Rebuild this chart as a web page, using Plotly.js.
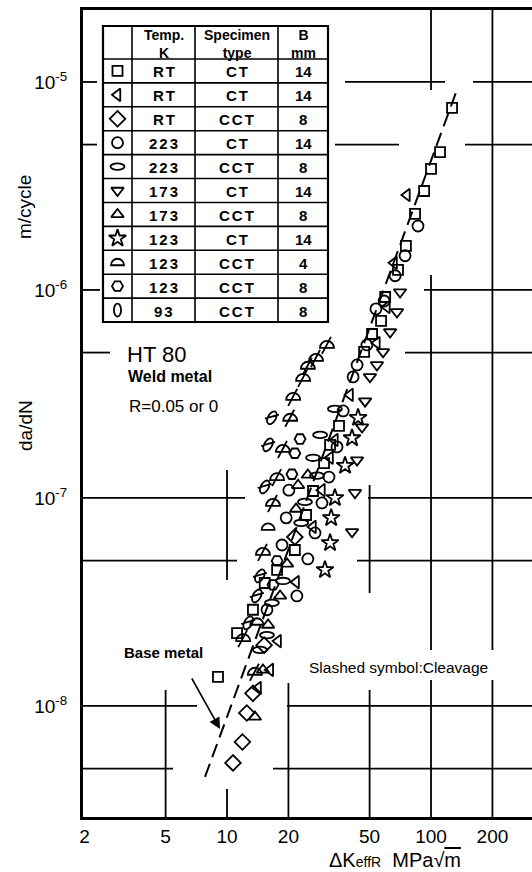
<!DOCTYPE html>
<html><head><meta charset="utf-8">
<script src="https://cdn.plot.ly/plotly-3.0.1.min.js"></script>
<style>html,body{margin:0;padding:0;background:#fff}#plot{width:532px;height:872px}</style>
</head><body><div id="plot"></div>
<script>
// ---------- DATA (ΔK_effR in MPa√m, da/dN in m/cycle) ----------
// RT, CT, 14 mm (square)
const sqK = [126.8,110.7,100,92.5,83.5,75.3,68.9,59.6,56.9,51.4,47.0,35.4,32.0,29.9,26.4,24.4,21.5,17.6,15.3,13.4,11.2,9.03];
const sqR = [7.50e-6,4.60e-6,3.82e-6,2.99e-6,2.32e-6,1.63e-6,1.25e-6,9.25e-7,7.10e-7,6.14e-7,5.04e-7,2.22e-7,1.80e-7,1.47e-7,1.08e-7,8.28e-8,5.62e-8,4.51e-8,3.90e-8,2.90e-8,2.24e-8,1.38e-8];
// RT, CT, 14 mm (left triangle)
const tlK = [76.2,65.9,60.8,54.3,40.1,33.8,32.0,29.2,26.4,21.8,17.8,16.3,14.2];
const tlR = [2.86e-6,1.35e-6,8.28e-7,5.56e-7,3.13e-7,1.90e-7,1.56e-7,1.09e-7,7.26e-8,3.94e-8,2.05e-8,1.49e-8,1.22e-8];
// RT, CCT, 8 mm (diamond)
const dmK = [21.5,15.2,13.4,12.5,11.9,10.7];
const dmR = [6.49e-8,1.96e-8,1.15e-8,9.25e-9,6.71e-9,5.32e-9];
// 223 K, CT, 14 mm (circle)
const ciK = [86.3,74.6,66.7,58.9,53.7,48.5,43.4,41.5,37.1,34.6,31.6,29.2,27.0,24.9,22.0,20.1,19.5,18.6,15.7];
const ciR = [2.03e-6,1.46e-6,1.17e-6,8.85e-7,8.11e-7,5.44e-7,4.36e-7,3.82e-7,2.62e-7,1.76e-7,1.26e-7,9.46e-8,6.79e-8,5.09e-8,3.38e-8,1.09e-7,8.02e-8,5.94e-8,2.90e-8];
// 223 K, CCT, 8 mm (flat ellipse)
const elK = [33.8,28.6,26.4,27.6,24.1,23.1,18.8,16.6,15.7,14.5];
const elR = [2.68e-7,2.01e-7,1.56e-7,1.28e-7,9.57e-8,7.59e-8,3.99e-8,3.13e-8,2.19e-8,1.86e-8];
// 173 K, CT, 14 mm (down triangle)
const tdK = [70.5,68.1,63.0,58.2,54.3,50.2,47.5,45.9,43.4,42.4,41.0];
const tdR = [9.77e-7,7.84e-7,6.28e-7,5.04e-7,4.36e-7,3.82e-7,2.92e-7,2.19e-7,1.52e-7,1.06e-7,6.87e-8];
// 173 K, CCT, 8 mm (up triangle)
const tuK = [24.9,22.3,21.8,19.7,18.2,15.9,15.0,13.7];
const tuR = [1.29e-7,1.15e-7,8.85e-8,4.82e-8,3.38e-8,2.45e-8,1.49e-8,8.85e-9];
// 123 K, CT, 14 mm (star)
const stK = [43.9,41.0,37.9,33.8,32.4,32.0,30.2];
const stR = [2.43e-7,1.94e-7,1.43e-7,1.0e-7,8.02e-8,6.08e-8,4.51e-8];
// 123 K, CCT, 4 mm (half circle)
const hcK = [15.9,14.0];
const hcR = [7.26e-8,2.54e-8];
// 123 K, CCT, 8 mm (hexagon)
const hxK = [22.8,21.5,20.8,17.6,16.8];
const hxR = [1.92e-7,1.64e-7,1.30e-7,4.98e-8,3.82e-8];
// 93 K, CCT, 8 mm (zero) – none unslashed
const zeK = [];
const zeR = [];
// Slashed symbols: cleavage
const cvHalfK = [30.9,27.3,24.9,23.6,21.1,20.4,18.8,17.6,16.8,15.0,12.0,13.7];
const cvHalfR = [5.44e-7,4.71e-7,4.32e-7,3.78e-7,3.06e-7,2.43e-7,1.72e-7,1.26e-7,9.46e-8,5.50e-8,2.12e-8,1.46e-8];
const cvZeroK = [16.6,15.9,15.3,14.5,14.0,12.7];
const cvZeroR = [2.43e-7,1.80e-7,1.13e-7,4.22e-8,3.38e-8,2.51e-8];
// Base metal line
const baseK = [7.8,134];
const baseR = [4.56e-9,9.16e-6];

// Table
const tblTemp = ['RT','RT','RT','223','223','173','173','123','123','123','93'];
const tblType = ['CT','CT','CCT','CT','CCT','CT','CCT','CT','CCT','CCT','CCT'];
const tblB    = ['14','14','8','14','8','14','8','14','4','8','8'];
const tblHead = ['Temp.<br>K','Specimen<br>type','B<br>mm'];

const xTickVals = [2,5,10,20,50,100,200];
const xTickText = ['2','5','10','20','50','100','200'];
const yTickVals = [1e-8,1e-7,1e-6,1e-5];
const yTickText = ['10<sup>-8</sup>','10<sup>-7</sup>','10<sup>-6</sup>','10<sup>-5</sup>'];

// ---------- LAYOUT GEOMETRY ----------
const W=532,H=872,L=83,R=532,T=10,B=817;
const xr=[0.294,2.495], yr=[-8.534,-4.654];
const pX=px=>(px-L)/(R-L), pY=py=>(B-py)/(B-T);
const vX=v=>(Math.log10(v)-xr[0])/(xr[1]-xr[0]);
const vY=v=>(Math.log10(v)-yr[0])/(yr[1]-yr[0]);
const FONT='Liberation Sans, Arial, sans-serif';

const P_FLAT='M-7,0A7,3.2 0 1,1 7,0A7,3.2 0 1,1 -7,0Z';
const P_HALF='M-6.5,3A6.5,6.5 0 0,1 6.5,3Z';
const P_ZERO='M0,-6.5A3.6,6.5 0 1,1 0,6.5A3.6,6.5 0 1,1 0,-6.5Z';
const P_HALFSL='M-7,3A7,7 0 0,1 7,3Z M-5,9L4,-8';
const P_ZEROSL='M3.5,-6.06A3.8,7 30 1,1 -3.5,6.06A3.8,7 30 1,1 3.5,-6.06Z M-7,1L7,-3';

const series=[
 {K:sqK,R:sqR,symbol:'square-open',size:10},
 {K:tlK,R:tlR,symbol:'triangle-left-open',size:11},
 {K:dmK,R:dmR,symbol:'diamond-open',size:12},
 {K:ciK,R:ciR,symbol:'circle-open',size:11},
 {K:elK,R:elR,symbol:'circle-open',size:11,path:P_FLAT},
 {K:tdK,R:tdR,symbol:'triangle-down-open',size:11},
 {K:tuK,R:tuR,symbol:'triangle-up-open',size:11},
 {K:stK,R:stR,symbol:'star-open',size:13},
 {K:hcK,R:hcR,symbol:'circle-open',size:11,path:P_HALF},
 {K:hxK,R:hxR,symbol:'hexagon2-open',size:11},
 {K:zeK,R:zeR,symbol:'circle-open',size:11,path:P_ZERO}
];
const cleav=[
 {K:cvHalfK,R:cvHalfR,symbol:'circle-open',size:11,path:P_HALFSL},
 {K:cvZeroK,R:cvZeroR,symbol:'circle-open',size:11,path:P_ZEROSL}
];

const mk=s=>({symbol:s.symbol,size:s.size,color:'black',line:{color:'black',width:1.8}});
const traces=[];
traces.push({x:baseK,y:baseR,mode:'lines',line:{color:'black',width:2,dash:'14px,7px'},showlegend:false,hoverinfo:'skip'});
series.concat(cleav).forEach(s=>{
  traces.push({x:s.K,y:s.R,mode:'markers',marker:mk(s),meta:{path:s.path||null},showlegend:false,cliponaxis:false});
});

// table geometry
const tX0=103,tX1=328,tCols=[132,195,278],tY0=26,tHead=59,tY1=322,nRows=11;
const rowH=(tY1-tHead)/nRows;
const iconX=(tX0+tCols[0])/2;
series.forEach((s,i)=>{
  const cy=tHead+rowH*(i+0.5);
  traces.push({x:[pX(iconX)],y:[pY(cy)],xaxis:'x2',yaxis:'y2',mode:'markers',
    marker:mk(s),meta:{path:s.path||null},showlegend:false,cliponaxis:false});
});

const shapes=[];
const ln=(x0,y0,x1,y1,w)=>shapes.push({type:'line',xref:'paper',yref:'paper',x0,y0,x1,y1,line:{color:'black',width:w}});
// broken grid lines
const hGrid=[
 [1e-5,[[83,97],[345,445],[473,532]]],
 [5e-6,[[83,97],[335,399],[465,532]]],
 [1e-6,[[83,100],[424,532]]],
 [5e-7,[[83,110],[405,532]]],
 [1e-7,[[83,245],[368,532]]],
 [5e-8,[[83,237],[357,532]]],
 [1e-8,[[83,197],[287,532]]],
 [5e-9,[[83,173],[273,532]]]
];
const vGrid=[
 [5,[[690,817]]],
 [10,[[470,580],[789,817]]],
 [20,[[683,817]]],
 [50,[[485,593],[690,817]]],
 [100,[[10,90],[275,650],[680,817]]],
 [200,[[10,650],[680,817]]]
];
hGrid.forEach(([v,segs])=>segs.forEach(([a,b])=>ln(pX(a),vY(v),pX(b),vY(v),1.8)));
vGrid.forEach(([v,segs])=>segs.forEach(([a,b])=>ln(vX(v),pY(a),vX(v),pY(b),1.8)));
// table
shapes.push({type:'rect',layer:'below',xref:'paper',yref:'paper',x0:pX(tX0),x1:pX(tX1),y0:pY(tY1),y1:pY(tY0),fillcolor:'white',line:{width:0}});
shapes.push({type:'rect',xref:'paper',yref:'paper',x0:pX(tX0),x1:pX(tX1),y0:pY(tY1),y1:pY(tY0),line:{color:'black',width:2.2}});
tCols.forEach(c=>ln(pX(c),pY(tY0),pX(c),pY(tY1),1.6));
for(let i=0;i<nRows;i++){const y=tHead+rowH*i;ln(pX(tX0),pY(y),pX(tX1),pY(y),1.6);}

const ann=[];
const spaced=[];
const txt=(px,py,t,size,opt)=>ann.push(Object.assign({xref:'paper',yref:'paper',x:pX(px),y:pY(py),text:t,showarrow:false,
  font:{family:FONT,size:size,color:'black'},xanchor:'center',yanchor:'middle'},opt||{}));
const colC=[(tCols[0]+tCols[1])/2,(tCols[1]+tCols[2])/2,(tCols[2]+tX1)/2];
tblHead.forEach((h,j)=>txt(colC[j],(tY0+tHead)/2+1,h,14,{font:{family:FONT,size:14,color:'black',weight:700}}));
for(let i=0;i<nRows;i++){
  const cy=tHead+rowH*(i+0.5)+1;
  [tblTemp[i],tblType[i],tblB[i]].forEach((t,j)=>{
    if(j<2) spaced.push(ann.length);
    txt(colC[j]+(j<2?1:0),cy,t,15,{font:{family:FONT,size:15,color:'black',weight:700}});
  });
}
txt(125,354,'HT 80',22,{xanchor:'left'});
txt(126,377,'Weld metal',16,{xanchor:'left',font:{family:FONT,size:16,color:'black',weight:700}});
txt(127,407,'R=0.05 or 0',17,{xanchor:'left'});
txt(122,652,'Base metal',15,{xanchor:'left',font:{family:FONT,size:15,color:'black',weight:700}});
txt(307,667,'Slashed symbol:Cleavage',15.5,{xanchor:'left'});
txt(25,207,'m/cycle',19,{textangle:-90});
txt(25,425,'da/dN',19,{textangle:-90});
txt(395,860,'ΔK<span style="font-size:14px">effR</span>  MPa√<span style="text-decoration:overline">m</span>',20);
ann.push({xref:'paper',yref:'paper',x:pX(220),y:pY(729),ax:-29,ay:-52,text:'',showarrow:true,arrowhead:2,arrowsize:1.4,arrowwidth:1.6,arrowcolor:'black',standoff:0});

const layout={
  width:W,height:H,margin:{l:L,r:W-R,t:T,b:H-B,pad:0},
  paper_bgcolor:'white',plot_bgcolor:'white',showlegend:false,hovermode:false,
  font:{family:FONT,color:'black'},
  xaxis:{type:'log',range:xr,tickvals:xTickVals,ticktext:xTickText,showgrid:false,zeroline:false,
    showline:true,mirror:true,linewidth:3,linecolor:'black',ticks:'',ticklabelstandoff:0,
    tickfont:{family:FONT,size:19,color:'black'}},
  yaxis:{type:'log',range:yr,tickvals:yTickVals,ticktext:yTickText,showgrid:false,zeroline:false,
    showline:true,mirror:false,linewidth:3,linecolor:'black',ticks:'',ticklabelstandoff:9,
    tickfont:{family:FONT,size:19,color:'black'}},
  xaxis2:{overlaying:'x',range:[0,1],visible:false,fixedrange:true},
  yaxis2:{overlaying:'y',range:[0,1],visible:false,fixedrange:true},
  shapes:shapes,annotations:ann
};
const gd=document.getElementById('plot');
function post(){
  gd.querySelectorAll('.scatterlayer .trace').forEach(g=>{
    const cd=g.__data__; const tr=cd&&cd[0]&&cd[0].trace;
    if(tr&&tr.meta&&tr.meta.path){g.querySelectorAll('path.point').forEach(p=>p.setAttribute('d',tr.meta.path));}
  });
  spaced.forEach(i=>{
    const t=gd.querySelector('.annotation[data-index="'+i+'"] text.annotation-text');
    if(t) t.style.letterSpacing='2px';
  });
}
Plotly.newPlot(gd,traces,layout,{staticPlot:true,displayModeBar:false}).then(post);
</script></body></html>
